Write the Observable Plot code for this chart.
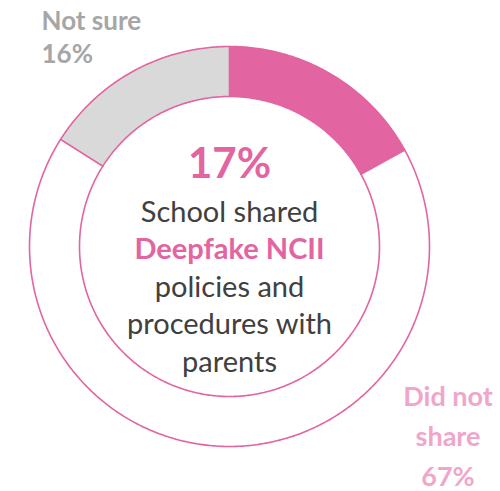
<!DOCTYPE html>
<html>
<head>
<meta charset="utf-8">
<script src="https://cdn.jsdelivr.net/npm/d3@7"></script>
<script src="https://cdn.jsdelivr.net/npm/@observablehq/plot@0.6"></script>
<style>
  html, body { margin: 0; padding: 0; background: #ffffff; }
  #chart svg { display: block; font-family: Lato, "Open Sans", sans-serif; }
</style>
</head>
<body>
<div id="chart"></div>
<script>
// ---- data (clockwise from 12 o'clock) ----
const categories = ["Shared", "Did not share", "Not sure"];
const values = [17, 67, 16];
const fills = ["#E264A1", "#FFFFFF", "#D9D9D9"];
const headline = "17%";
const centerLinesTop = ["School shared"];
const centerHighlight = "Deepfake NCII";
const centerLinesBottom = ["policies and", "procedures with", "parents"];
const notSureLabel = ["Not sure", "16%"];
const didNotLabel = ["Did not", "share", "67%"];

// ---- geometry in abstract units (outer radius 1) ----
const rOuter = 1, rInner = 0.75;
const pie = d3.pie().sort(null).value(d => d)(values);
function pt(a, r) { return [r * Math.sin(a), -r * Math.cos(a)]; }
function ring(a0, a1) {
  const n = Math.max(2, Math.ceil((a1 - a0) / 0.01));
  const outer = d3.range(n + 1).map(i => pt(a0 + (a1 - a0) * i / n, rOuter));
  const inner = d3.range(n + 1).map(i => pt(a1 - (a1 - a0) * i / n, rInner));
  const coords = outer.concat(inner);
  coords.push(coords[0]);
  return coords;
}
const slices = pie.map((p, i) => ({
  type: "Feature",
  properties: {name: categories[i], fill: fills[i]},
  geometry: {type: "Polygon", coordinates: [ring(p.startAngle, p.endAngle)]}
}));
const outerCircle = {
  type: "Feature",
  geometry: {type: "Polygon", coordinates: [d3.range(361).map(d => pt(d * Math.PI / 180, rOuter))]}
};

const pink = "#E264A1";
const chart = Plot.plot({
  width: 500,
  height: 491,
  marginLeft: 29,
  marginRight: 71,
  marginTop: 46,
  marginBottom: 45,
  projection: {type: "identity", domain: outerCircle},
  marks: [
    Plot.geo(slices, {fill: d => d.properties.fill, stroke: pink, strokeWidth: 1.6}),
    Plot.text([headline], {
      text: d => d, frameAnchor: "middle", lineAnchor: "bottom", dy: -69,
      fontSize: 42, fontWeight: "bold", fill: pink
    }),
    Plot.text([centerLinesTop.concat([""], centerLinesBottom).join("\n")], {
      text: d => d, frameAnchor: "middle", lineAnchor: "bottom", dy: 125,
      lineHeight: 1.293, fontSize: 29, fill: "#404040"
    }),
    Plot.text([centerHighlight], {
      text: d => d, frameAnchor: "middle", lineAnchor: "bottom", dy: 12.5,
      fontSize: 29, fontWeight: "bold", fill: pink
    }),
    Plot.text([notSureLabel.join("\n")], {
      text: d => d, frameAnchor: "top-left", textAnchor: "start", lineAnchor: "bottom",
      dx: 12, dy: 16, lineHeight: 1.24, fontSize: 26, fontWeight: "bold", fill: "#A6A6A6"
    }),
    Plot.text([didNotLabel.join("\n")], {
      text: d => d, frameAnchor: "bottom-right", textAnchor: "middle", lineAnchor: "bottom",
      dx: 18.5, dy: 39, lineHeight: 1.48, fontSize: 27, fontWeight: "bold", fill: "#F0A6CA"
    })
  ]
});
document.getElementById("chart").appendChild(chart);
</script>
</body>
</html>
